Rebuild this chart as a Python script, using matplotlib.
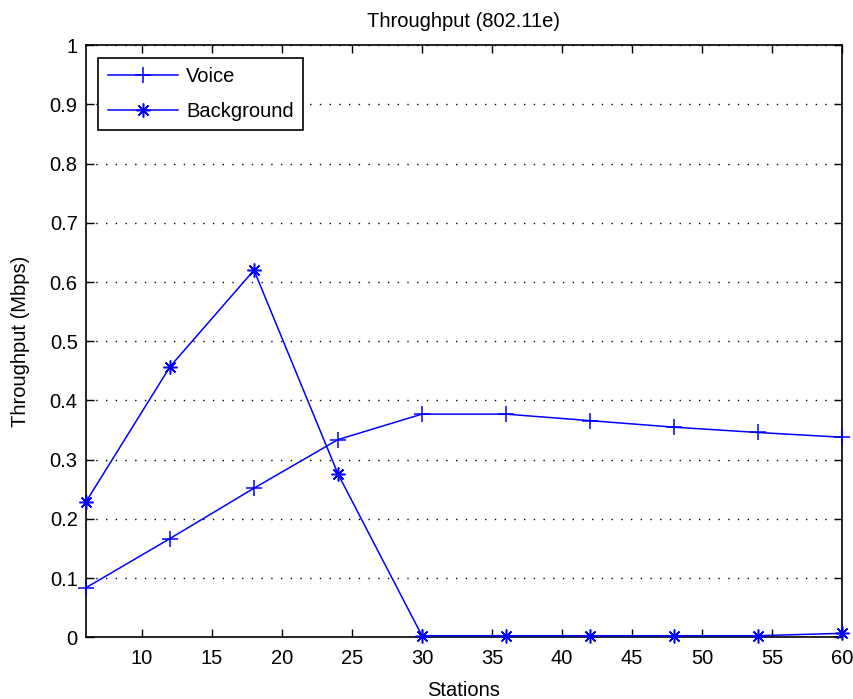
import matplotlib
matplotlib.use("Agg")
import matplotlib.pyplot as plt

stations = [6, 12, 18, 24, 30, 36, 42, 48, 54, 60]
voice = [0.084, 0.167, 0.252, 0.334, 0.377, 0.377, 0.366, 0.355, 0.346, 0.338]
background = [0.229, 0.457, 0.620, 0.276, 0.003, 0.003, 0.003, 0.003, 0.003, 0.007]
xticks = [10, 15, 20, 25, 30, 35, 40, 45, 50, 55, 60]
yticks = [0, 0.1, 0.2, 0.3, 0.4, 0.5, 0.6, 0.7, 0.8, 0.9, 1]
ytick_labels = ["0", "0.1", "0.2", "0.3", "0.4", "0.5", "0.6", "0.7", "0.8", "0.9", "1"]

plt.rcParams['font.family'] = ['Liberation Sans', 'DejaVu Sans']
FS = 14.5

fig = plt.figure(figsize=(8.54, 6.99), dpi=100)
ax = fig.add_axes([0.1007, 0.088, 0.8852, 0.8476])

blue = (0.0, 0.0, 1.0)
ax.plot(stations, voice, color=blue, lw=1.1, marker='+', ms=11, mew=1.1,
        label='Voice', clip_on=False, zorder=3)
ax.plot(stations, background, color=blue, lw=1.1, marker=(8, 2, 0), ms=10, mew=1.1,
        label='Background', clip_on=False, zorder=3)

ax.set_xlim(6, 60)
ax.set_ylim(0, 1)
ax.set_xticks(xticks)
ax.set_xticklabels([str(t) for t in xticks])
ax.set_yticks(yticks)
ax.set_yticklabels(ytick_labels)

ax.yaxis.grid(True, color='black', linestyle=(0, (1, 6)), linewidth=1.0)
ax.xaxis.grid(False)
ax.set_axisbelow(True)

ax.tick_params(direction='in', length=6, width=1.0, top=True, right=True,
               labelsize=FS, colors='black', pad=6)
ax.tick_params(axis='x', pad=8)
for s in ax.spines.values():
    s.set_linewidth(1.2)
    s.set_color('black')

ax.set_title('Throughput (802.11e)', fontsize=FS, pad=13)
ax.set_xlabel('Stations', fontsize=FS, labelpad=10)
ax.set_ylabel('Throughput (Mbps)', fontsize=FS, labelpad=14)

leg = ax.legend(loc='upper left', fontsize=FS, frameon=True, fancybox=False,
                borderaxespad=0.62, handlelength=3.5, handletextpad=0.4,
                labelspacing=0.8, borderpad=0.45)
leg.get_frame().set_edgecolor('black')
leg.get_frame().set_linewidth(1.2)
leg.get_frame().set_facecolor('white')
leg.get_frame().set_alpha(1)

fig.savefig('out.png', dpi=100, facecolor='white')
